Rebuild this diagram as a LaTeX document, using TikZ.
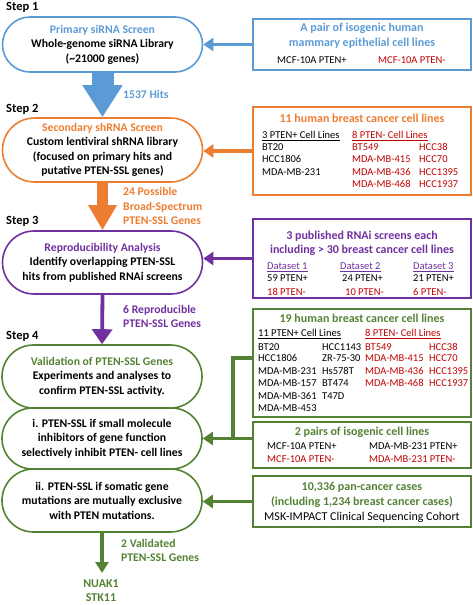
\documentclass[tikz,border=0pt]{standalone}
\usepackage{fontspec}
\setmainfont{Carlito}
\usetikzlibrary{shapes.misc,arrows.meta}
\definecolor{cblue}{HTML}{5B9BD5}
\definecolor{corange}{HTML}{ED7D31}
\definecolor{cpurple}{HTML}{7030A0}
\definecolor{cgreen}{HTML}{548235}
\definecolor{cred}{HTML}{C00000}
\tikzset{
  pill/.style={rounded rectangle, draw, line width=1.6pt, minimum width=200pt, inner sep=0pt, align=center, font=\bfseries\fontsize{11.7}{14.5}\selectfont},
  rbox/.style={draw, line width=2pt, minimum width=218pt, inner sep=0pt},
  steplab/.style={anchor=west, inner sep=0pt, text height=8pt, text depth=0pt, font=\bfseries\fontsize{12.5}{14}\selectfont},
  sidelab/.style={anchor=west, inner sep=0pt, text height=7.5pt, text depth=0pt, font=\bfseries\fontsize{11.7}{14}\selectfont},
  ttl/.style={inner sep=0pt, text height=7.7pt, text depth=0pt, font=\bfseries\fontsize{12}{14}\selectfont},
  cell/.style={anchor=west, inner sep=0pt, text height=6.8pt, text depth=0pt, font=\fontsize{10.5}{12}\selectfont},
  sidearrow/.style={line width=3.3pt, -{Triangle[width=13pt,length=10pt]}},
}
\begin{document}
\begin{tikzpicture}[x=1pt,y=-1pt]
\useasboundingbox (0,0) rectangle (472,605);

% Step labels
\node[steplab] (s1) at (6,6.5) {Step 1};
\node[steplab] (s2) at (6,108) {Step 2};
\node[steplab] (s3) at (6,220) {Step 3};
\node[steplab] (s4) at (6,335) {Step 4};

% Left pills
\node[pill, draw=cblue, minimum height=55pt] (b1) at (102.5,44.5)
  {\textcolor{cblue}{Primary siRNA Screen}\\Whole-genome siRNA Library\\(\textasciitilde21000 genes)};
\node[pill, draw=corange, minimum height=64pt] (b2) at (102.5,150)
  {\textcolor{corange}{Secondary shRNA Screen}\\Custom lentiviral shRNA library\\(focused on primary hits and\\putative PTEN-SSL genes)};
\node[pill, draw=cpurple, minimum height=63pt] (b3) at (102.5,262.5)
  {\textcolor{cpurple}{Reproducibility Analysis}\\Identify overlapping PTEN-SSL\\hits from published RNAi screens};
\node[pill, draw=cgreen, minimum height=63pt] (b4a) at (102,376.5)
  {\textcolor{cgreen}{Validation of PTEN-SSL Genes}\\Experiments and analyses to\\confirm PTEN-SSL activity.};
\node[pill, draw=cgreen, minimum height=61pt] (b4b) at (102,438.5)
  {i. PTEN-SSL if small molecule\\inhibitors of gene function\\selectively inhibit PTEN- cell lines};
\node[pill, draw=cgreen, minimum height=63pt] (b4c) at (102,500.5)
  {ii. PTEN-SSL if somatic gene\\mutations are mutually exclusive\\with PTEN mutations.};
\coordinate (gend) at (102,573);

% Down arrows
\draw[cblue, line width=22pt, -{Triangle[width=38pt,length=32pt]}] (b1.south) -- (b2.north);
\draw[corange, line width=11pt, -{Triangle[width=27pt,length=25pt]}] (b2.south) -- (b3.north);
\draw[cpurple, line width=3.8pt, -{Triangle[width=20pt,length=15pt]}] (b3.south) -- (b4a.north);
\draw[cgreen, line width=3.2pt, -{Triangle[width=13pt,length=11pt]}] (b4c.south) -- (gend);

% Side labels
\node[sidelab, text=cblue] (l1) at (123,95) {1537 Hits};
\node[sidelab, text=corange] (l2a) at (123,192) {24 Possible};
\node[sidelab, text=corange] (l2b) at (123,206.5) {Broad-Spectrum};
\node[sidelab, text=corange] (l2c) at (123,221) {PTEN-SSL Genes};
\node[sidelab, text=cpurple] (l3a) at (123,310) {6 Reproducible};
\node[sidelab, text=cpurple] (l3b) at (123,324) {PTEN-SSL Genes};
\node[sidelab, text=cgreen] (l4a) at (121,544) {2 Validated};
\node[sidelab, text=cgreen] (l4b) at (121,558) {PTEN-SSL Genes};
\node[sidelab, anchor=center, text=cgreen, font=\bfseries\fontsize{12}{14}\selectfont] (g1) at (101,584) {NUAK1};
\node[sidelab, anchor=center, text=cgreen, font=\bfseries\fontsize{12}{14}\selectfont] (g2) at (101,597.5) {STK11};

% Right boxes
\node[rbox, draw=cblue, minimum height=51pt] (R1) at (362,44.5) {};
\node[rbox, draw=corange, minimum height=88pt] (R2) at (362,151) {};
\node[rbox, draw=cpurple, minimum height=79pt] (R3) at (362,258.5) {};
\node[rbox, draw=cgreen, minimum height=108pt] (R4) at (362,363) {};
\node[rbox, draw=cgreen, minimum height=46pt] (R5) at (362,445) {};
\node[rbox, draw=cgreen, minimum height=51pt] (R6) at (362,501.5) {};

% R1 content
\node[ttl, text=cblue] (r1t1) at (362,28) {A pair of isogenic human};
\node[ttl, text=cblue] (r1t2) at (362,43) {mammary epithelial cell lines};
\node[cell] (r1a) at (277,60) {MCF-10A PTEN+};
\node[cell, text=cred] (r1b) at (378,60) {MCF-10A PTEN-};

% R2 content
\node[ttl, text=corange] (r2t) at (362,119) {11 human breast cancer cell lines};
\node[cell] (r2h1) at (262,135) {\underline{3 PTEN+ Cell Lines}};
\node[cell, text=cred] (r2h2) at (352,135) {\underline{8 PTEN- Cell Lines}};
\node[cell] (r2a1) at (262,147) {BT20};
\node[cell] (r2a2) at (262,159.5) {HCC1806};
\node[cell] (r2a3) at (262,172) {MDA-MB-231};
\node[cell, text=cred] (r2b1) at (352,147) {BT549};
\node[cell, text=cred] (r2b2) at (352,159.5) {MDA-MB-415};
\node[cell, text=cred] (r2b3) at (352,172) {MDA-MB-436};
\node[cell, text=cred] (r2b4) at (352,184) {MDA-MB-468};
\node[cell, text=cred] (r2c1) at (419,147) {HCC38};
\node[cell, text=cred] (r2c2) at (419,159.5) {HCC70};
\node[cell, text=cred] (r2c3) at (419,172) {HCC1395};
\node[cell, text=cred] (r2c4) at (419,184) {HCC1937};

% R3 content
\node[ttl, text=cpurple] (r3t1) at (362,236) {3 published RNAi screens each};
\node[ttl, text=cpurple] (r3t2) at (362,250) {including > 30 breast cancer cell lines};
\node[cell, text=cpurple] (r3d1) at (267,266) {\underline{Dataset 1}};
\node[cell, text=cpurple] (r3d2) at (340,266) {\underline{Dataset 2}};
\node[cell, text=cpurple] (r3d3) at (413,266) {\underline{Dataset 3}};
\node[cell] (r3p1) at (267,278.5) {59 PTEN+};
\node[cell] (r3p2) at (342,278.5) {24 PTEN+};
\node[cell] (r3p3) at (413,278.5) {21 PTEN+};
\node[cell, text=cred] (r3m1) at (267,292) {18 PTEN-};
\node[cell, text=cred] (r3m2) at (345,292) {10 PTEN-};
\node[cell, text=cred] (r3m3) at (413,292) {6 PTEN-};

% R4 content
\node[ttl, text=cgreen] (r4t) at (362,319) {19 human breast cancer cell lines};
\node[cell] (r4h1) at (258,333) {\underline{11 PTEN+ Cell Lines}};
\node[cell, text=cred] (r4h2) at (365,333) {\underline{8 PTEN- Cell Lines}};
\node[cell] (r4a1) at (258,346.7) {BT20};
\node[cell] (r4a2) at (258,358.5) {HCC1806};
\node[cell] (r4a3) at (258,370.7) {MDA-MB-231};
\node[cell] (r4a4) at (258,383.3) {MDA-MB-157};
\node[cell] (r4a5) at (258,396) {MDA-MB-361};
\node[cell] (r4a6) at (258,408.3) {MDA-MB-453};
\node[cell] (r4b1) at (322,346.7) {HCC1143};
\node[cell] (r4b2) at (322,358.5) {ZR-75-30};
\node[cell] (r4b3) at (322,370.7) {Hs578T};
\node[cell] (r4b4) at (322,383.3) {BT474};
\node[cell] (r4b5) at (322,396) {T47D};
\node[cell, text=cred] (r4c1) at (365,346.7) {BT549};
\node[cell, text=cred] (r4c2) at (365,358.5) {MDA-MB-415};
\node[cell, text=cred] (r4c3) at (365,370.7) {MDA-MB-436};
\node[cell, text=cred] (r4c4) at (365,383.3) {MDA-MB-468};
\node[cell, text=cred] (r4d1) at (429,346.7) {HCC38};
\node[cell, text=cred] (r4d2) at (429,358.5) {HCC70};
\node[cell, text=cred] (r4d3) at (429,370.7) {HCC1395};
\node[cell, text=cred] (r4d4) at (429,383.3) {HCC1937};

% R5 content
\node[ttl, text=cgreen] (r5t) at (362,432) {2 pairs of isogenic cell lines};
\node[cell] (r5a1) at (267,446) {MCF-10A PTEN+};
\node[cell, text=cred] (r5a2) at (267,459) {MCF-10A PTEN-};
\node[cell] (r5b1) at (369,446) {MDA-MB-231 PTEN+};
\node[cell, text=cred] (r5b2) at (369,459) {MDA-MB-231 PTEN-};

% R6 content
\node[ttl, text=cgreen] (r6t1) at (362,487) {10,336 pan-cancer cases};
\node[ttl, text=cgreen] (r6t2) at (362,502) {(including 1,234 breast cancer cases)};
\node[ttl, font=\fontsize{12}{14}\selectfont] (r6t3) at (362,517) {MSK-IMPACT Clinical Sequencing Cohort};

% Side connectors
\draw[cblue, sidearrow] (R1.west) -- (R1.west -| b1.east);
\draw[corange, sidearrow] (R2.west) -- (R2.west -| b2.east);
\draw[cpurple, sidearrow] (R3.west) -- (R3.west -| b3.east);
\coordinate (jtop) at (233,358);
\coordinate (jbot) at (233,438.5);
\draw[cgreen, line width=3.3pt] (jtop -| R4.west) -- (jtop) -- (jbot);
\draw[cgreen, sidearrow] (R5.west |- b4b.east) -- (b4b.east);
\draw[cgreen, sidearrow] (R6.west) -- (R6.west -| b4c.east);
\end{tikzpicture}
\end{document}
